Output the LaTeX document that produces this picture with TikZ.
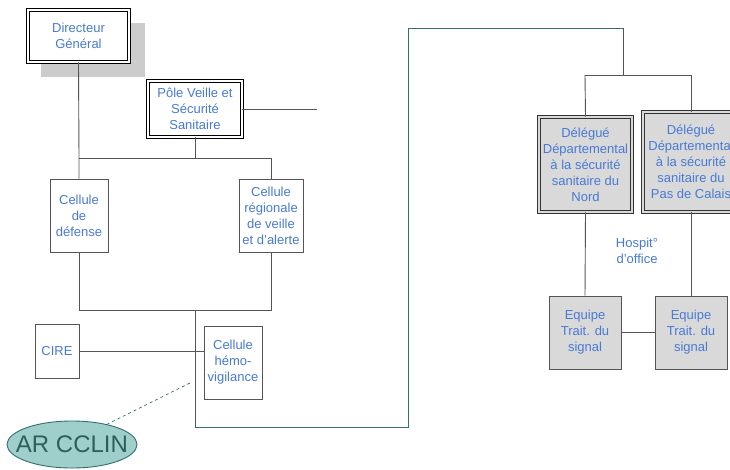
\documentclass[tikz,border=0pt]{standalone}
\usepackage{fontspec}
\setmainfont{Liberation Sans}
\usetikzlibrary{shapes.geometric}
\definecolor{txtblue}{RGB}{72,122,212}
\definecolor{lnGray}{RGB}{85,85,85}
\definecolor{tealLn}{RGB}{52,110,110}
\definecolor{tealFill}{RGB}{158,207,202}
\definecolor{tealTxt}{RGB}{45,95,92}
\definecolor{boxFill}{RGB}{217,217,217}
\definecolor{shadowGray}{RGB}{204,204,204}
\begin{document}
\begin{tikzpicture}[x=1pt,y=-1pt,
  every node/.style={font=\fontsize{13}{16}\selectfont, text=txtblue, align=center, inner sep=0pt},
  plainbox/.style={draw=lnGray, line width=0.9pt, fill=white, minimum width=#1},
  dblbox/.style={draw=black, line width=0.8pt, double=white, double distance=1.6pt, fill=white},
  graybox/.style={draw=lnGray, line width=0.9pt, fill=boxFill},
  dblgray/.style={draw=black!80, line width=0.8pt, double=boxFill, double distance=1.6pt, fill=boxFill},
  conn/.style={draw=lnGray, line width=0.9pt},
  tconn/.style={draw=tealLn, line width=0.9pt}]
\clip (0,0) rectangle (730,469);
\fill[white] (0,0) rectangle (730,469);
% shadow
\fill[shadowGray] (41,23) rectangle (145,77);
% nodes
\node[dblbox, minimum width=101pt, minimum height=52pt] (dir) at (78.5,36) {Directeur\\Général};
\node[dblbox, minimum width=94pt, minimum height=56pt] (pole) at (195,109) {Pôle Veille et\\Sécurité\\Sanitaire};
\node[plainbox=58pt, minimum height=73pt] (def) at (79,215.5) {Cellule\\de\\défense};
\node[plainbox=64pt, minimum height=73pt] (reg) at (271,215.5) {Cellule\\régionale\\de veille\\et d’alerte};
\node[plainbox=44pt, minimum height=54pt] (cire) at (57,351) {CIRE};
\node[plainbox=58pt, minimum height=73pt] (hemo) at (233,362.5) {Cellule\\hémo-\\vigilance};
\node[dblgray, minimum width=93pt, minimum height=95pt] (nord) at (585.5,164.5) {Délégué\\Départemental\\à la sécurité\\sanitaire du\\Nord};
\node[dblgray, minimum width=96pt, minimum height=100pt] (pdc) at (691,162) {Délégué\\Départemental\\à la sécurité\\sanitaire du\\Pas de Calais};
\node[graybox, minimum width=72pt, minimum height=73pt] (eqL) at (585,332.5) {Equipe\\Trait. du\\signal};
\node[graybox, minimum width=72pt, minimum height=73pt] (eqR) at (691,332.5) {Equipe\\Trait. du\\signal};
\node (hosp) at (637,251) {Hospit°\\d’office};
\node[ellipse, draw=tealLn, line width=0.9pt, fill=tealFill, minimum width=130pt, minimum height=47pt, text=tealTxt, font=\fontsize{24}{28}\selectfont] (ar) at (72,444.5) {\makebox[0pt]{AR CCLIN}};
% coordinates
\coordinate (j1) at (79,158);
\coordinate (j2) at (271,158);
\coordinate (jp) at (195,158);
\coordinate (j3) at (79,310);
\coordinate (j4) at (271,310);
\coordinate (j5) at (195,310);
\coordinate (j6) at (195,427);
\coordinate (t1) at (408,427);
\coordinate (t2) at (408,28);
\coordinate (t3) at (623,28);
\coordinate (k0) at (623,75);
\coordinate (k1) at (585,75);
\coordinate (k2) at (691,75);
\coordinate (pend) at (317,109);
\coordinate (dstart) at (190,383);
% connectors
\draw[conn] (dir.south) -- (j1) -- (def.north);
\draw[conn] (j1) -- (j2) -- (reg.north);
\draw[conn] (pole.south) -- (jp);
\draw[conn] (pole.east) -- (pend);
\draw[conn] (def.south) -- (j3) -- (j4) -- (reg.south);
\draw[conn] (j5) -- (j6);
\draw[tconn] (j6) -- (t1) -- (t2) -- (t3);
\draw[conn] (t3) -- (k0);
\draw[conn] (k1) -- (k2);
\draw[conn] (k1) -- (nord.north);
\draw[conn] (k2) -- (pdc.north);
\draw[conn] (cire.east) -- (cire.east -| hemo.west);
\draw[conn] (nord.south) -- (eqL.north);
\draw[conn] (pdc.south) -- (eqR.north);
\draw[conn] (eqL.east) -- (eqR.west);
\draw[tconn, dashed, line width=0.7pt] (dstart) -- (ar.30);
\end{tikzpicture}
\end{document}
